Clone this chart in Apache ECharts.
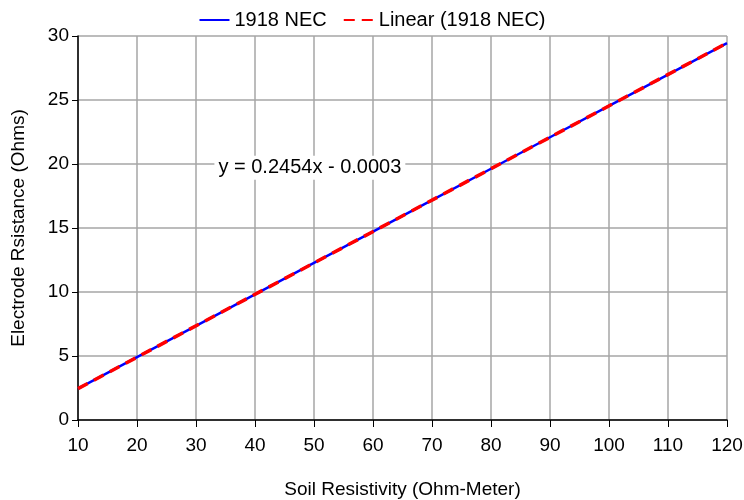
<!DOCTYPE html>
<html>
<head>
  <meta charset="utf-8">
  <title>Electrode Resistance</title>
  <script src="https://cdn.jsdelivr.net/npm/echarts@6/dist/echarts.min.js"></script>
</head>
<body style="margin:0">
<div id="main" style="width:744px;height:500px;"></div>
<script type="text/javascript">
// soil resistivity (ohm-m)
var xVals = [10, 20, 30, 40, 50, 60, 70, 80, 90, 100, 110, 120];
// 1918 NEC electrode resistance (ohms)
var necVals = [2.45, 4.91, 7.36, 9.82, 12.27, 14.72, 17.18, 19.63, 22.09, 24.54, 26.99, 29.45];
// linear trend end points
var trendX = [10, 120];
var trendY = [2.45, 29.45];
var eqText = 'y = 0.2454x - 0.0003';
var eqPos = [49.3, 19.7];

var font = 'Liberation Sans, Arial, sans-serif';
var chart = echarts.init(document.getElementById('main'));

var option = {
    animation: false,
    textStyle: { fontFamily: font },
    legend: {
        top: 5,
        left: 'center',
        itemWidth: 30,
        itemGap: 16,
        itemStyle: { opacity: 0 },
        textStyle: { fontSize: 20, color: '#000', fontFamily: font },
        data: ['1918 NEC', 'Linear (1918 NEC)']
    },
    grid: { left: 78, right: 17, top: 36, bottom: 80, outerBoundsMode: 'none' },
    xAxis: {
        type: 'value',
        min: 10, max: 120, interval: 10,
        name: 'Soil Resistivity (Ohm-Meter)',
        nameLocation: 'middle',
        nameGap: 60,
        nameTextStyle: { fontSize: 19, color: '#000' },
        axisLine: { onZero: false, lineStyle: { color: '#000', width: 1.5 } },
        axisTick: { length: 7, lineStyle: { color: '#000' } },
        axisLabel: { fontSize: 19, color: '#000', margin: 16 },
        splitLine: { lineStyle: { color: '#a6a6a6', width: 1.5 } }
    },
    yAxis: {
        type: 'value',
        min: 0, max: 30, interval: 5,
        name: 'Electrode Rsistance (Ohms)',
        nameLocation: 'middle',
        nameGap: 50,
        nameTextStyle: { fontSize: 19, color: '#000' },
        axisLine: { show: true, lineStyle: { color: '#000', width: 1.5 } },
        axisTick: { show: true, length: 6, lineStyle: { color: '#000' } },
        axisLabel: { fontSize: 19, color: '#000', margin: 9 },
        splitLine: { lineStyle: { color: '#a6a6a6', width: 1.5 } }
    },
    series: [{
        name: '1918 NEC',
        type: 'line',
        symbol: 'none',
        data: xVals.map(function (x, i) { return [x, necVals[i]]; }),
        lineStyle: { color: '#0000ff', width: 2.5 },
        itemStyle: { color: '#0000ff' },
        z: 2
    }, {
        name: 'Linear (1918 NEC)',
        type: 'line',
        symbol: 'none',
        data: trendX.map(function (x, i) { return [x, trendY[i]]; }),
        lineStyle: { color: '#ff0000', width: 3.5, type: [11, 7] },
        itemStyle: { color: '#ff0000' },
        z: 3,
        markPoint: {
            symbol: 'rect',
            symbolSize: 1,
            itemStyle: { color: 'rgba(0,0,0,0)' },
            label: {
                show: true,
                position: 'inside',
                formatter: eqText,
                fontSize: 20,
                color: '#000',
                backgroundColor: '#fff',
                padding: [2, 4]
            },
            data: [{ coord: eqPos }]
        }
    }]
};

chart.setOption(option);
</script>
</body>
</html>
